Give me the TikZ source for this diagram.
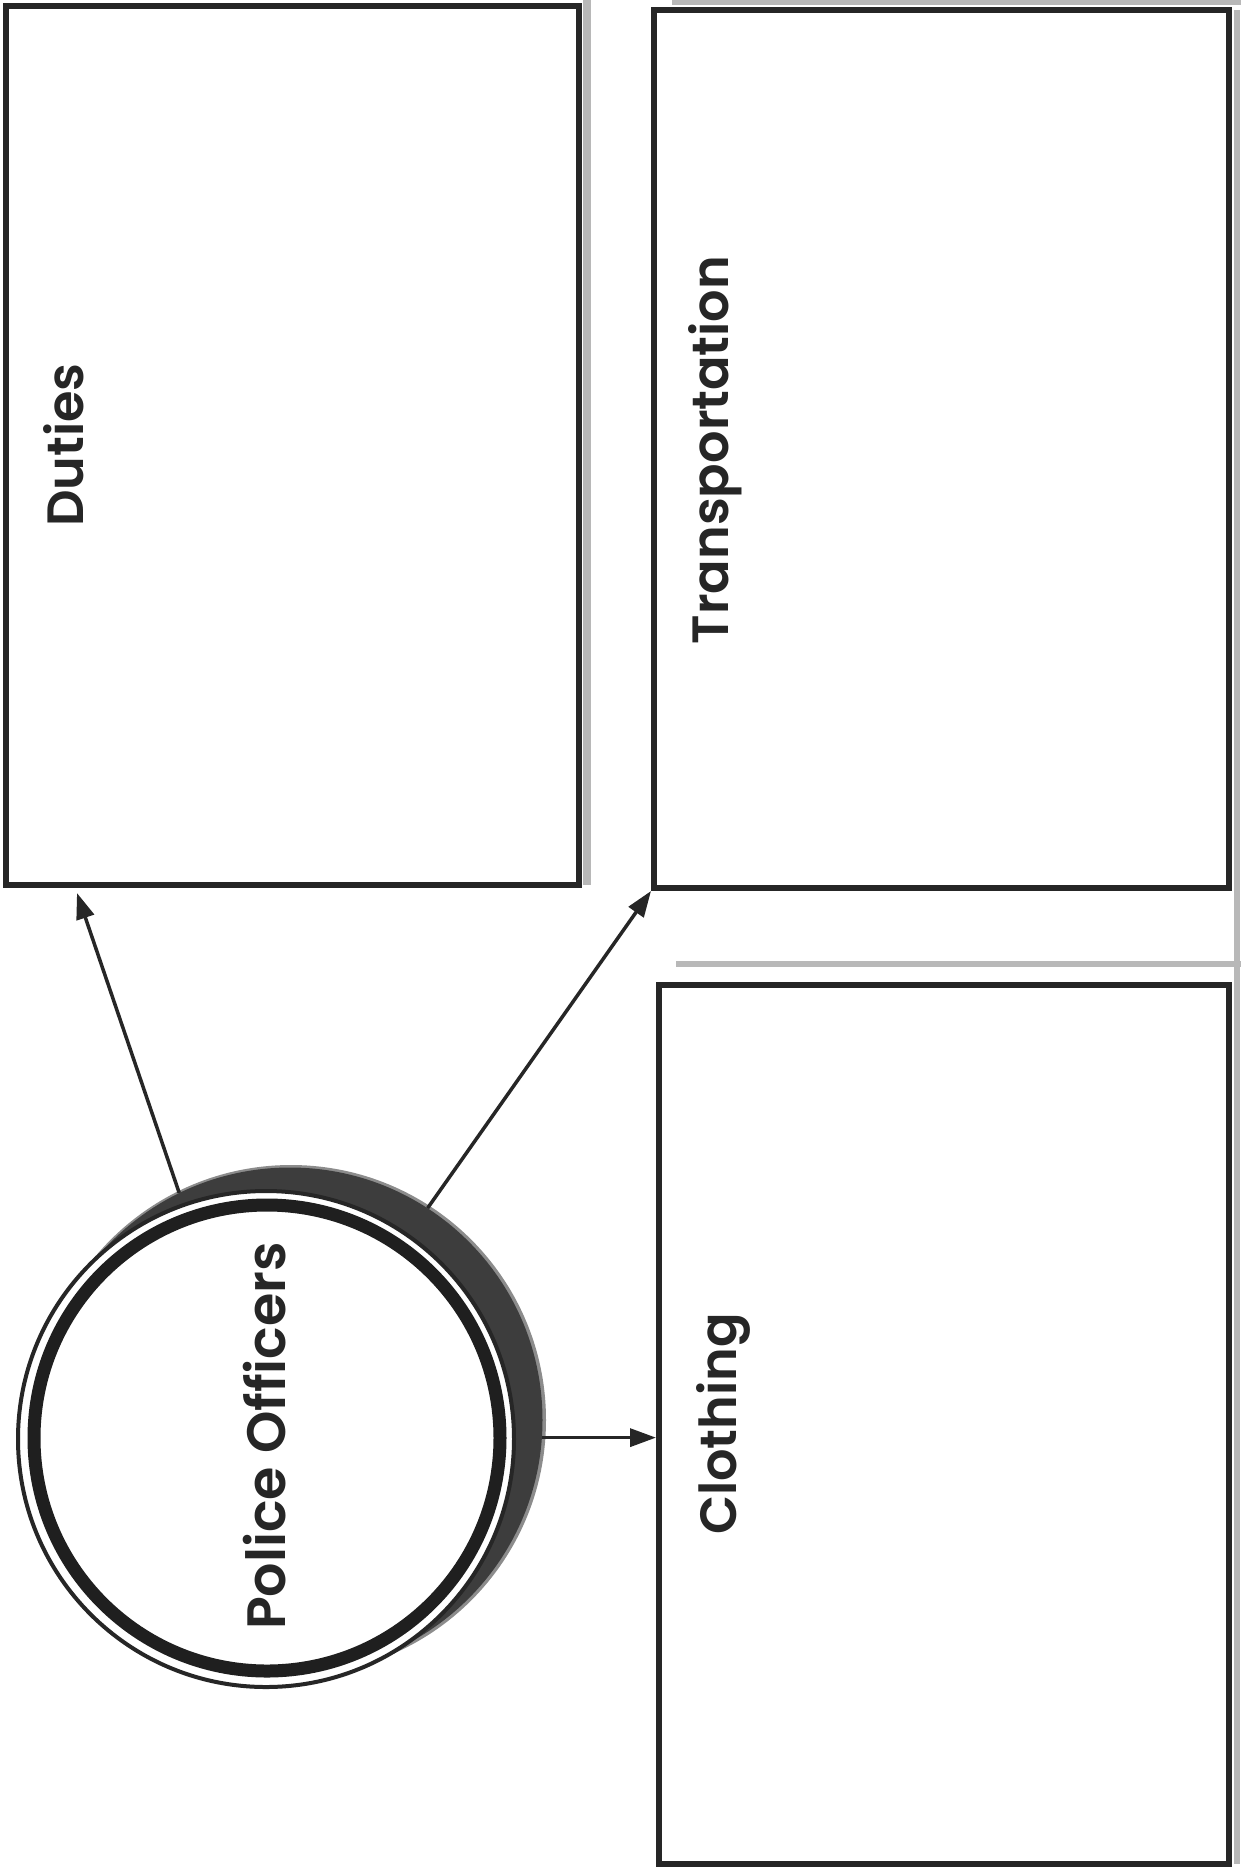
\documentclass[tikz,border=0pt]{standalone}
\usepackage{fontspec}
\setmainfont{Poppins}[BoldFont={Poppins SemiBold}]
\usetikzlibrary{arrows.meta}
\begin{document}
\begin{tikzpicture}[x=1pt,y=-1pt,
  box/.style={draw=black!85, line width=6pt, fill=white, inner sep=0pt},
  lbl/.style={rotate=90, inner sep=0pt, font=\fontsize{51}{56}\selectfont\bfseries, text=black!85},
  arr/.style={draw=black!85, line width=3.5pt, -{Triangle[length=26pt,width=18pt]}},
  scan/.style={fill=black!28, draw=none}
]
\useasboundingbox[fill=white] (0,0) rectangle (1241,1869);
% scan shadows
\fill[scan] (583,0) rectangle (591,885);
\fill[scan] (672,0) rectangle (1241,5);
\fill[scan] (676,961) rectangle (1241,967);
\fill[scan] (1234,10) rectangle (1240,1864);
% boxes
\node[box, minimum width=573pt, minimum height=879pt] (duties) at (292.5,445.5) {};
\node[box, minimum width=575pt, minimum height=878pt] (trans) at (941.5,449) {};
\node[box, minimum width=570pt, minimum height=879pt] (cloth) at (944,1424.5) {};
% labels
\node[lbl] (dutiesT) at (64,445) {Duties};
\node[lbl] (transT) at (715,450) {Transportation};
\node[lbl] (clothT) at (723,1424) {Clothing};
% circle with shadow
\node[circle, fill=black!45, minimum size=510pt, inner sep=0pt] (shsoft) at (291,1420) {};
\node[circle, fill=black!76, minimum size=505pt, inner sep=0pt] (sh) at (290,1420) {};
\node[circle, fill=white, draw=black!85, line width=4pt, minimum size=496pt, inner sep=0pt] (po) at (266,1439) {};
\node[circle, draw=black!88, line width=13pt, minimum size=466pt, inner sep=0pt] (poring) at (267,1438) {};
\node[lbl, font=\fontsize{54}{60}\selectfont\bfseries] (poT) at (265,1436) {Police Officers};
% connectors
\coordinate (dtip) at (77,893);
\draw[arr] (sh.116) -- (dtip);
\draw[arr] (sh.57) -- (trans.south west);
\draw[arr] (sh.-4) -- (sh.-4 -| cloth.west);
\end{tikzpicture}
\end{document}
